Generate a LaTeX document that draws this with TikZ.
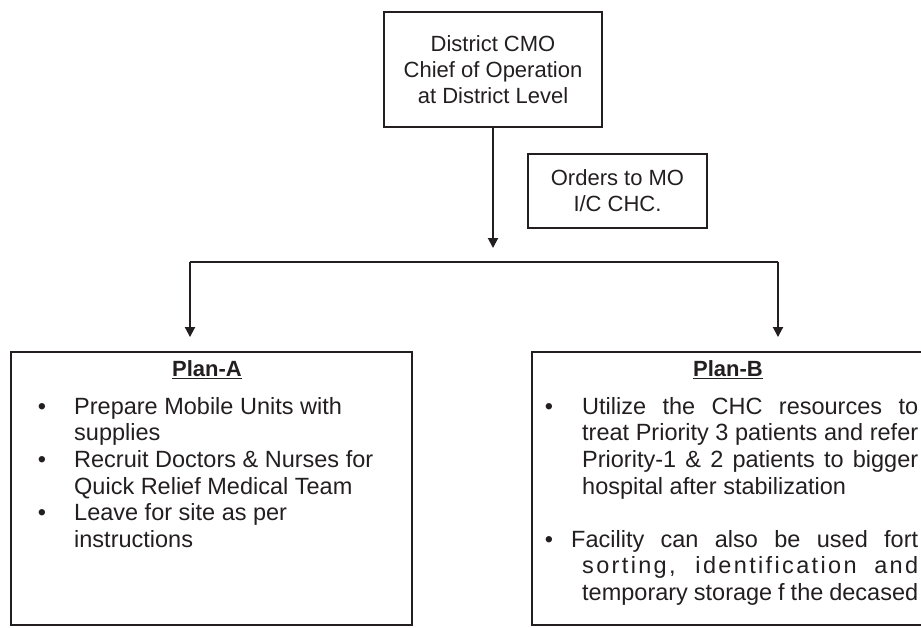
\documentclass[tikz,border=0pt]{standalone}
\usepackage{fontspec}
\setmainfont{Liberation Sans}
\usepackage{tikz}
\usetikzlibrary{positioning,arrows.meta}
\definecolor{inkColor}{RGB}{35,31,32}
\tikzstyle{chart} = [x = 1pt, y = -1pt, every node/.style={text=inkColor}]
\tikzstyle{boxStyle} = [draw=inkColor, line width=1.9pt, rectangle, inner sep=0pt]
\tikzstyle{flowLine} = [draw=inkColor, line width=1.9pt]
\tikzstyle{flowArrow} = [flowLine, -{Triangle[length=10pt, width=10pt]}]
\tikzstyle{headText} = [font=\fontsize{22}{26}\selectfont, align=center]
\tikzstyle{titleText} = [font=\fontsize{22}{26}\selectfont\bfseries, inner sep=0pt]
\tikzstyle{listText} = [font=\fontsize{23.5}{26.6}\selectfont, align=left, inner sep=0pt, anchor=north west]
\newcommand{\itemMark}[1]{\llap{\textbullet\hspace{#1pt}}}
\newcommand{\fullLine}[2]{\makebox[#1pt][s]{#2}}
\newcommand{\planBox}[5]{\node [boxStyle, minimum width=#4pt, minimum height=#5pt] (#1) at (#2,#3) {};}

\begin{document}
\begin{tikzpicture}[chart]
  \useasboundingbox (0,0) rectangle (921,627);
  % top of the chain
  \node [boxStyle, headText, minimum width=218pt, minimum height=115pt] (cmoBox) at (493,69.5) {District CMO\\Chief of Operation\\at District Level};
  \node [boxStyle, headText, minimum width=179pt, minimum height=74pt] (ordersBox) at (617.5,191) {Orders to MO\\I/C CHC.};
  % the two plans
  \planBox{planABox}{211.5}{488.5}{401}{273}
  \planBox{planBBox}{731}{488.5}{398}{273}
  \node [titleText] (planATitle) at (207,370) {\underline{Plan-A}};
  \node [titleText] (planBTitle) at (728,370) {\underline{Plan-B}};
  \node [listText] (planAList) at (74,397) {%
    \itemMark{28}Prepare Mobile Units with\\
    supplies\\
    \itemMark{28}Recruit Doctors \& Nurses for\\
    Quick Relief Medical Team\\
    \itemMark{28}Leave for site as per\\
    instructions};
  \node [listText] (planBList) at (582,397) {%
    \itemMark{29}\fullLine{336}{Utilize the CHC resources to}\\
    \fullLine{336}{treat Priority 3 patients and refer}\\
    \fullLine{336}{Priority-1 \& 2 patients to bigger}\\
    hospital after stabilization\\
    \mbox{}\\
    \hspace*{-11pt}\itemMark{18}\fullLine{347}{Facility can also be used fort}\\
    \fullLine{336}{\addfontfeature{LetterSpace=10}sorting, identification and}\\
    \fullLine{336}{temporary storage f the decased}};
  % connectors
  \coordinate (cmoTip) at (493,248);
  \coordinate (splitLeft) at (190,262);
  \coordinate (splitRight) at (778,262);
  \draw [flowArrow] (cmoBox) -- (cmoTip);
  \draw [flowLine] (splitLeft) -- (splitRight);
  \draw [flowArrow, shorten >=14pt] (splitLeft) -- (splitLeft |- planABox.north);
  \draw [flowArrow, shorten >=14pt] (splitRight) -- (splitRight |- planBBox.north);
\end{tikzpicture}
\end{document}
